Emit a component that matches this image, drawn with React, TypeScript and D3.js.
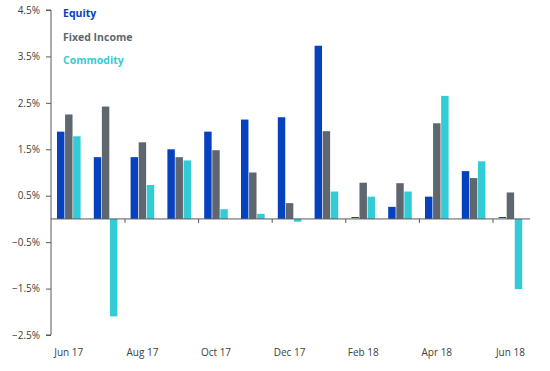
import { useEffect, useRef } from "react";
import * as d3 from "d3";

const months = [
  "Jun 17", "Jul 17", "Aug 17", "Sep 17", "Oct 17", "Nov 17", "Dec 17",
  "Jan 18", "Feb 18", "Mar 18", "Apr 18", "May 18", "Jun 18",
];
const seriesNames = ["Equity", "Fixed Income", "Commodity"];
const equity = [1.88, 1.33, 1.33, 1.5, 1.88, 2.14, 2.19, 3.73, 0.02, 0.26, 0.48, 1.03, 0.02];
const fixedIncome = [2.25, 2.42, 1.65, 1.33, 1.48, 1.0, 0.34, 1.89, 0.78, 0.77, 2.06, 0.88, 0.57];
const commodity = [1.78, -2.1, 0.73, 1.26, 0.21, 0.11, -0.06, 0.59, 0.48, 0.59, 2.65, 1.24, -1.51];
const yTicks = [-2.5, -1.5, -0.5, 0.5, 1.5, 2.5, 3.5, 4.5];
const colors = ["#0641BF", "#5E676F", "#33CCD6"];

export default function App() {
  const svgRef = useRef<SVGSVGElement>(null);

  useEffect(() => {
    if (!svgRef.current) return;
    const width = 550;
    const height = 371;
    const svg = d3.select(svgRef.current);
    svg.selectAll("*").remove();
    svg.attr("width", width).attr("height", height);

    const font = "'Open Sans', 'Liberation Sans', sans-serif";
    const axisColor = "#595959";
    const textColor = "#404040";

    const y = d3.scaleLinear().domain([-2.5, 4.5]).range([335, 10]);
    const x0 = d3.scaleBand<string>().domain(months).range([51.4, 529.8]).padding(0);
    const x1 = d3
      .scaleBand<string>()
      .domain(seriesNames)
      .range([5.6, 5.6 + 23.6])
      .paddingInner(0.08);

    const values = [equity, fixedIncome, commodity];

    // bars
    const groups = svg
      .append("g")
      .selectAll("g")
      .data(months)
      .enter()
      .append("g")
      .attr("transform", (d) => `translate(${x0(d)},0)`);

    groups
      .selectAll("rect")
      .data((_m, i) => seriesNames.map((s, k) => ({ s, k, v: values[k][i] })))
      .enter()
      .append("rect")
      .attr("x", (d) => x1(d.s)!)
      .attr("width", x1.bandwidth())
      .attr("y", (d) => y(Math.max(0, d.v)) - (d.v > 0 && d.v < 0.05 ? 1 : 0))
      .attr("height", (d) => Math.max(Math.abs(y(d.v) - y(0)), 1))
      .attr("fill", (d) => colors[d.k]);

    // y axis
    const yAxis = svg
      .append("g")
      .attr("transform", "translate(51,0)")
      .call(
        d3
          .axisLeft(y)
          .tickValues(yTicks)
          .tickSize(5)
          .tickPadding(6)
          .tickFormat((d) => `${d3.format(".1f")(d as number)}%`),
      );
    yAxis.select(".domain").attr("stroke", axisColor).attr("d", `M-5,${y(4.5)}H0V${y(-2.5)}H-5`);
    yAxis.selectAll(".tick line").attr("stroke", axisColor);
    yAxis
      .selectAll(".tick text")
      .attr("fill", textColor)
      .style("font-family", font)
      .style("font-size", "10px");

    // x axis at zero
    const zeroY = y(0);
    svg
      .append("line")
      .attr("x1", 51)
      .attr("x2", 530)
      .attr("y1", zeroY)
      .attr("y2", zeroY)
      .attr("stroke", axisColor)
      .attr("stroke-width", 1);

    const boundaryTicks = months.filter((_m, i) => i > 0 && i % 2 === 0);
    svg
      .append("g")
      .selectAll("line")
      .data(boundaryTicks)
      .enter()
      .append("line")
      .attr("x1", (d) => x0(d)!)
      .attr("x2", (d) => x0(d)!)
      .attr("y1", zeroY)
      .attr("y2", zeroY + 4)
      .attr("stroke", axisColor);

    svg
      .append("g")
      .selectAll("text")
      .data(months.filter((_m, i) => i % 2 === 0))
      .enter()
      .append("text")
      .attr("x", (d) => x0(d)! + x0.bandwidth() / 2 - 1)
      .attr("y", 356)
      .attr("text-anchor", "middle")
      .attr("fill", textColor)
      .style("font-family", font)
      .style("font-size", "10px")
      .text((d) => d);

    // legend
    svg
      .append("g")
      .selectAll("text")
      .data(seriesNames)
      .enter()
      .append("text")
      .attr("x", 63)
      .attr("y", (_d, i) => 17 + i * 23.5)
      .attr("fill", (_d, i) => colors[i])
      .style("font-family", font)
      .style("font-size", "10.5px")
      .style("font-weight", "bold")
      .text((d) => d);
  }, []);

  return (
    <div style={{ position: "absolute", left: 0, top: 0, width: 550, height: 371, background: "#fff" }}>
      <svg ref={svgRef} style={{ display: "block" }} />
    </div>
  );
}
